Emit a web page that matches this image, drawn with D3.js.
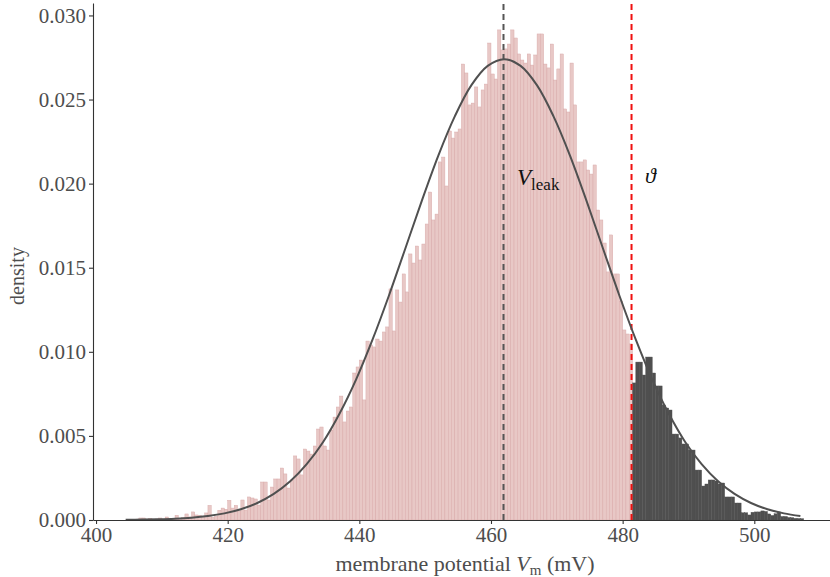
<!DOCTYPE html>
<html>
<head>
<meta charset="utf-8">
<script src="https://cdn.jsdelivr.net/npm/d3@7"></script>
<style>
  body { margin: 0; background: #fff; }
  svg text { font-family: "Liberation Serif", "DejaVu Serif", serif; }
</style>
</head>
<body>
<div id="chart"></div>
<script>
// histogram of membrane potential, 0.5 mV bins starting at 405 mV
var binStart = 405, binWidth = 0.5;

// bins below threshold (pink)
var belowDensity = [
  0.00002, 0.00003, 0.00005, 0.00012, 0.00012, 0.00003, 0.00010, 0.00003, 0.00006, 0.00012,
  0.00006, 0.00018, 0.00006, 0.00009, 0.00028, 0.00009, 0.00014, 0.00036, 0.00018, 0.00048,
  0.00030, 0.00028, 0.00021, 0.00042, 0.00087, 0.00016, 0.00022, 0.00058, 0.00071, 0.00064,
  0.00117, 0.00071, 0.00087, 0.00054, 0.00119, 0.00059, 0.00137, 0.00131, 0.00125, 0.00089,
  0.00226, 0.00226, 0.00119, 0.00196, 0.00244, 0.00244, 0.00309, 0.00274, 0.00190, 0.00238,
  0.00381, 0.00363, 0.00268, 0.00422, 0.00410, 0.00392, 0.00440, 0.00541, 0.00553, 0.00440,
  0.00416, 0.00535, 0.00612, 0.00672, 0.00737, 0.00583, 0.00648, 0.00672, 0.00874, 0.00910,
  0.00951, 0.00714, 0.01064, 0.01041, 0.01029, 0.01076, 0.01064, 0.01118, 0.01148, 0.01374,
  0.01124, 0.01368, 0.01296, 0.01463, 0.01356, 0.01582, 0.01528, 0.01629, 0.01546, 0.01641,
  0.01760, 0.01950, 0.01784, 0.01819, 0.02129, 0.02158, 0.01986, 0.02313, 0.02271, 0.02307,
  0.02325, 0.02711, 0.02658, 0.02468, 0.02479, 0.02575, 0.02456, 0.02557, 0.02592, 0.02836,
  0.02652, 0.02622, 0.02914, 0.02795, 0.02801, 0.02830, 0.02914, 0.02866, 0.02771, 0.02735,
  0.02717, 0.02771, 0.02705, 0.02765, 0.02890, 0.02890, 0.02711, 0.02688, 0.02830, 0.02616,
  0.02682, 0.02771, 0.02444, 0.02426, 0.02717, 0.02468, 0.02129, 0.02129, 0.02141, 0.02081,
  0.02057, 0.02111, 0.01843, 0.01784, 0.01647, 0.01475, 0.01695, 0.01463, 0.01463, 0.01302,
  0.01130, 0.01106, 0.01047
];

// bins above threshold (dark), continuing from 481.5 mV
var aboveDensity = [
  0.00815, 0.00939, 0.00939, 0.00862, 0.00969, 0.00969, 0.00874, 0.00797, 0.00797, 0.00684,
  0.00666, 0.00654, 0.00511, 0.00511, 0.00488, 0.00452, 0.00452, 0.00416, 0.00416, 0.00297,
  0.00297, 0.00202, 0.00214, 0.00238, 0.00238, 0.00232, 0.00214, 0.00220, 0.00137, 0.00137,
  0.00137, 0.00101, 0.00101, 0.00043, 0.00043, 0.00030, 0.00046, 0.00048, 0.00048, 0.00054,
  0.00051, 0.00036, 0.00027, 0.00037, 0.00048, 0.00021, 0.00021, 0.00015, 0.00014, 0.00010,
  0.00009, 0.00008
];

// reference density curve
var curveV = [404.5, 407, 409.5, 412, 414.5, 417, 419.5, 422, 424.5, 427, 429.5, 432, 434.5,
  437, 439.5, 442, 444.5, 447, 449.5, 452, 454.5, 457, 459.5, 462, 464.5, 467, 469.5, 472,
  474.5, 477, 479.5, 482, 484.5, 487, 489.5, 492, 494.5, 497, 499.5, 502, 504.5, 507];
var curveD = [0.0000117, 0.0000225, 0.0000424, 0.0000775, 0.000137, 0.000237, 0.000395,
  0.00064, 0.00101, 0.00155, 0.0023, 0.00332, 0.00464, 0.00633, 0.00835, 0.01072, 0.01335,
  0.01616, 0.01899, 0.02167, 0.0240, 0.02584, 0.0270, 0.0274, 0.0270, 0.02584, 0.0240,
  0.02167, 0.01899, 0.01616, 0.01335, 0.01072, 0.00835, 0.00633, 0.00464, 0.00332, 0.0023,
  0.00155, 0.00101, 0.00064, 0.000395, 0.000237];

var vLeak = 461.9, theta = 481.35;
var xTicks = [400, 420, 440, 460, 480, 500];
var yTicks = [0, 0.005, 0.010, 0.015, 0.020, 0.025, 0.030];

var width = 830, height = 577;
var margin = { top: 3, right: 0, bottom: 57, left: 93 };

var svg = d3.select("#chart").append("svg")
    .attr("width", width)
    .attr("height", height);

var x = d3.scaleLinear().domain([399.54, 511.5]).range([margin.left, width - margin.right]);
var y = d3.scaleLinear().domain([0, 0.03074]).range([height - margin.bottom, margin.top]);

// build bin records
var bins = [];
belowDensity.forEach(function (d, i) {
    bins.push({ x0: binStart + i * binWidth, d: d, above: false });
});
aboveDensity.forEach(function (d, i) {
    bins.push({ x0: binStart + (belowDensity.length + i) * binWidth, d: d, above: true });
});

svg.append("g").selectAll("rect")
    .data(bins)
    .enter().append("rect")
    .attr("x", function (b) { return x(b.x0); })
    .attr("width", function (b) { return x(b.x0 + binWidth) - x(b.x0); })
    .attr("y", function (b) { return y(b.d); })
    .attr("height", function (b) { return y(0) - y(b.d); })
    .attr("fill", function (b) { return b.above ? "#4f4f4f" : "#e8c8c6"; })
    .attr("stroke", function (b) { return b.above ? "#4f4f4f" : "#d6a4a4"; })
    .attr("stroke-width", 0.4);

// vertical dashed markers
svg.append("line")
    .attr("x1", x(vLeak)).attr("x2", x(vLeak))
    .attr("y1", y(0)).attr("y2", margin.top)
    .attr("stroke", "#555").attr("stroke-width", 2)
    .attr("stroke-dasharray", "6,4");

svg.append("line")
    .attr("x1", x(theta)).attr("x2", x(theta))
    .attr("y1", y(0)).attr("y2", margin.top)
    .attr("stroke", "#f01010").attr("stroke-width", 2)
    .attr("stroke-dasharray", "6,4");

// density curve
var pts = curveV.map(function (v, i) { return [v, curveD[i]]; });
var line = d3.line()
    .x(function (p) { return x(p[0]); })
    .y(function (p) { return y(p[1]); })
    .curve(d3.curveCatmullRom);

svg.append("path")
    .datum(pts)
    .attr("d", line)
    .attr("fill", "none")
    .attr("stroke", "#505050")
    .attr("stroke-width", 2);

// axes
var xAxis = svg.append("g")
    .attr("transform", "translate(0," + y(0) + ")")
    .call(d3.axisBottom(x).tickValues(xTicks).tickSize(4).tickSizeOuter(0).tickPadding(3));
var yAxis = svg.append("g")
    .attr("transform", "translate(" + margin.left + ",0)")
    .call(d3.axisLeft(y).tickValues(yTicks).tickFormat(d3.format(".3f")).tickSize(4).tickSizeOuter(0).tickPadding(3));

[xAxis, yAxis].forEach(function (g) {
    g.select(".domain").attr("stroke", "#333").attr("stroke-width", 1.1);
    g.selectAll(".tick line").attr("stroke", "#333").attr("stroke-width", 1.1);
    g.selectAll(".tick text")
        .attr("fill", "#4d4d4d")
        .style("font-family", "'Liberation Serif', serif")
        .style("font-size", "21px");
});

// axis titles
var xt = svg.append("text")
    .attr("x", 465).attr("y", 571)
    .attr("text-anchor", "middle")
    .attr("fill", "#4d4d4d")
    .style("font-size", "22px");
xt.append("tspan").text("membrane potential ");
xt.append("tspan").style("font-style", "italic").text("V");
xt.append("tspan").attr("dy", 4).style("font-size", "15px").text("m");
xt.append("tspan").attr("dy", -4).text(" (mV)");

svg.append("text")
    .attr("transform", "translate(24,276) rotate(-90)")
    .attr("text-anchor", "middle")
    .attr("fill", "#4d4d4d")
    .style("font-size", "20px")
    .text("density");

// marker labels
var vl = svg.append("text")
    .attr("x", 517).attr("y", 185)
    .attr("fill", "#111")
    .style("font-size", "23px");
vl.append("tspan").style("font-style", "italic").text("V");
vl.append("tspan").attr("dy", 5).style("font-size", "17px").text("leak");

svg.append("text")
    .attr("x", 645).attr("y", 183)
    .attr("fill", "#111")
    .style("font-size", "22px")
    .style("font-style", "italic")
    .text("ϑ");
</script>
</body>
</html>
